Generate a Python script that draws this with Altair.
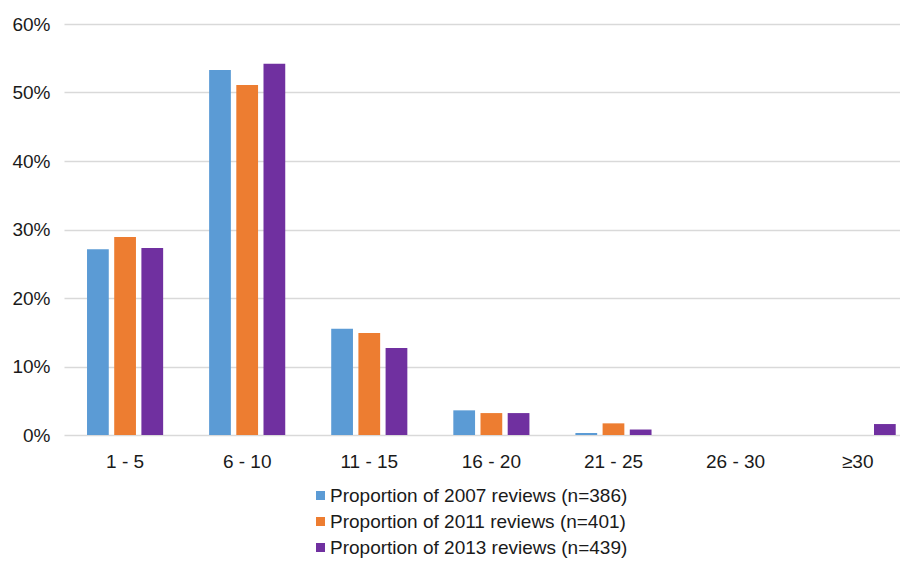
import altair as alt
import pandas as pd

categories = ["1 - 5", "6 - 10", "11 - 15", "16 - 20", "21 - 25", "26 - 30", "≥30"]
series = [
    "Proportion of 2007 reviews (n=386)",
    "Proportion of 2011 reviews (n=401)",
    "Proportion of 2013 reviews (n=439)",
]
p2007 = [27.1, 53.3, 15.5, 3.6, 0.3, 0.0, 0.0]
p2011 = [28.9, 51.1, 14.9, 3.2, 1.7, 0.0, 0.0]
p2013 = [27.3, 54.2, 12.7, 3.2, 0.8, 0.0, 1.6]
colors = ["#5B9BD5", "#ED7D31", "#7030A0"]
y_ticks = [0, 10, 20, 30, 40, 50, 60]

rows = []
for s, vals in zip(series, [p2007, p2011, p2013]):
    for c, v in zip(categories, vals):
        rows.append({"category": c, "series": s, "value": v})
df = pd.DataFrame(rows)

FONT = "Liberation Sans"
TXT = "#1a1a1a"
FS = 19

chart = alt.Chart(df).mark_bar().encode(
    x=alt.X(
        "category:N",
        sort=categories,
        scale=alt.Scale(paddingInner=0.332, paddingOuter=0.0895, align=0.929),
        axis=alt.Axis(
            title=None, labelAngle=0, domain=False, ticks=False,
            labelFontSize=FS, labelPadding=17, labelFont=FONT, labelColor=TXT,
        ),
    ),
    xOffset=alt.XOffset(
        "series:N", sort=series,
        scale=alt.Scale(paddingInner=0.2, paddingOuter=0.1),
    ),
    y=alt.Y(
        "value:Q",
        scale=alt.Scale(domain=[0, 60], nice=False),
        axis=alt.Axis(
            title=None, values=y_ticks, labelExpr="datum.value + '%'",
            domain=False, ticks=False, gridColor="#d9d9d9", gridWidth=1.3,
            labelFontSize=FS, labelPadding=14, labelFont=FONT, labelColor=TXT,
        ),
    ),
    color=alt.Color(
        "series:N",
        sort=series,
        scale=alt.Scale(domain=series, range=colors),
        legend=alt.Legend(
            title=None, orient="none", legendX=247, legendY=462,
            direction="vertical", symbolType="square", symbolSize=81,
            symbolStrokeWidth=0, labelFontSize=FS, labelFont=FONT,
            labelColor=TXT, rowPadding=6, labelOffset=0, padding=0,
            labelLimit=500,
        ),
    ),
).properties(
    width=836,
    height=411,
    padding={"left": 56, "top": 16, "right": 0, "bottom": 126},
    autosize=alt.AutoSizeParams(type="none"),
).configure_view(stroke=None)

chart.save("out.html", embed_options={"renderer": "svg", "actions": False})
